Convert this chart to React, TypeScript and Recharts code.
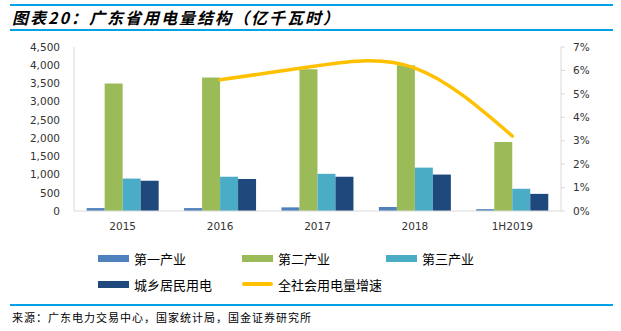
import React from "react";
import { ComposedChart, Bar, Line, XAxis, YAxis } from "recharts";

const YEARS = ["2015", "2016", "2017", "2018", "1H2019"];
const PRIMARY = [80, 80, 100, 110, 50];
const SECONDARY = [3500, 3660, 3890, 4000, 1890];
const TERTIARY = [890, 940, 1020, 1190, 610];
const RESIDENTIAL = [830, 880, 940, 1000, 470];
const GROWTH: (number | null)[] = [null, 5.6, 6.2, 6.1, 3.2];

const LEFT_TICKS = [0, 500, 1000, 1500, 2000, 2500, 3000, 3500, 4000, 4500];
const RIGHT_TICKS = [0, 1, 2, 3, 4, 5, 6, 7];

const COLORS = {
  primary: "#4F81BD",
  secondary: "#9BBB59",
  tertiary: "#4BACC6",
  residential: "#1F497D",
  growth: "#FFC000",
};

const data = YEARS.map((year, i) => ({
  year,
  primary: PRIMARY[i],
  secondary: SECONDARY[i],
  tertiary: TERTIARY[i],
  residential: RESIDENTIAL[i],
  growth: GROWTH[i],
}));

const tickStyle = { fontSize: 10.5, fill: "#333", fontFamily: "DejaVu Sans" };
const cjk = '"Noto Sans CJK SC", sans-serif';

const legendItems = [
  { label: "第一产业", color: COLORS.primary, line: false, x: 98, y: 258 },
  { label: "第二产业", color: COLORS.secondary, line: false, x: 242, y: 258 },
  { label: "第三产业", color: COLORS.tertiary, line: false, x: 386, y: 258 },
  { label: "城乡居民用电", color: COLORS.residential, line: false, x: 98, y: 284 },
  { label: "全社会用电量增速", color: COLORS.growth, line: true, x: 242, y: 284 },
];

export default function App() {
  return (
    <div
      style={{
        position: "absolute",
        left: 0,
        top: 0,
        width: 621,
        height: 331,
        background: "#fff",
        overflow: "hidden",
      }}
    >
      <div style={{ position: "absolute", left: 10, top: 4, width: 603, height: 1.5, background: "#00A2E8" }} />
      <div
        style={{
          position: "absolute",
          left: 12,
          top: 6,
          fontFamily: cjk,
          fontWeight: 700,
          fontStyle: "italic",
          fontSize: 16,
          letterSpacing: 2,
          lineHeight: "22px",
          color: "#000",
        }}
      >
        图表20：广东省用电量结构（亿千瓦时）
      </div>
      <div style={{ position: "absolute", left: 10, top: 29, width: 603, height: 1.5, background: "#00A2E8" }} />

      <div style={{ position: "absolute", left: 0, top: 0 }}>
        <ComposedChart
          width={621}
          height={236}
          data={data}
          margin={{ top: 47, right: 0, bottom: 0, left: 0 }}
          barCategoryGap="13%"
          barGap={0}
        >
          <XAxis
            dataKey="year"
            axisLine={{ stroke: "#d9d9d9" }}
            tickLine={false}
            tick={tickStyle}
            tickMargin={6}
            height={25}
          />
          <YAxis
            yAxisId="left"
            width={74}
            domain={[0, 4500]}
            ticks={LEFT_TICKS}
            interval={0}
            tickFormatter={(v: number) => v.toLocaleString("en-US")}
            axisLine={{ stroke: "#d9d9d9" }}
            tickLine={false}
            tickSize={0}
            tickMargin={14}
            tick={tickStyle}
          />
          <YAxis
            yAxisId="right"
            orientation="right"
            width={60}
            domain={[0, 7]}
            ticks={RIGHT_TICKS}
            interval={0}
            tickFormatter={(v: number) => `${v}%`}
            axisLine={{ stroke: "#d9d9d9" }}
            tickLine={{ stroke: "#d9d9d9" }}
            tickSize={4}
            tickMargin={8}
            tick={tickStyle}
          />
          <Bar yAxisId="left" dataKey="primary" fill={COLORS.primary} isAnimationActive={false} />
          <Bar yAxisId="left" dataKey="secondary" fill={COLORS.secondary} isAnimationActive={false} />
          <Bar yAxisId="left" dataKey="tertiary" fill={COLORS.tertiary} isAnimationActive={false} />
          <Bar yAxisId="left" dataKey="residential" fill={COLORS.residential} isAnimationActive={false} />
          <Line
            yAxisId="right"
            type="natural"
            dataKey="growth"
            stroke={COLORS.growth}
            strokeWidth={3.5}
            strokeLinecap="round"
            dot={false}
            activeDot={false}
            isAnimationActive={false}
          />
        </ComposedChart>
      </div>

      {legendItems.map((it) => (
        <div
          key={it.label}
          style={{
            position: "absolute",
            left: it.x,
            top: it.y - 10,
            height: 20,
            display: "flex",
            alignItems: "center",
            fontFamily: cjk,
            fontSize: 13,
            color: "#000",
            whiteSpace: "nowrap",
          }}
        >
          <span
            style={{
              display: "inline-block",
              width: 31,
              height: it.line ? 4 : 7,
              borderRadius: it.line ? 2 : 0,
              background: it.color,
              marginRight: 5,
            }}
          />
          {it.label}
        </div>
      ))}

      <div style={{ position: "absolute", left: 10, top: 304, width: 603, height: 1.5, background: "#00A2E8" }} />
      <div
        style={{
          position: "absolute",
          left: 12,
          top: 309,
          fontFamily: cjk,
          fontSize: 11,
          letterSpacing: 1,
          lineHeight: "16px",
          color: "#000",
        }}
      >
        来源：广东电力交易中心，国家统计局，国金证券研究所
      </div>
    </div>
  );
}
